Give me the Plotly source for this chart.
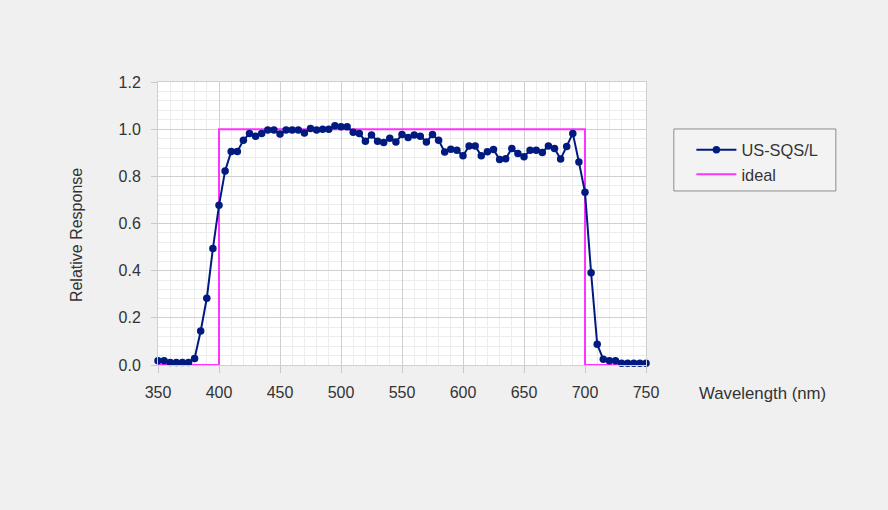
import plotly.graph_objects as go

wavelength = [350, 355, 360, 365, 370, 375, 380, 385, 390, 395,
              400, 405, 410, 415, 420, 425, 430, 435, 440, 445,
              450, 455, 460, 465, 470, 475, 480, 485, 490, 495,
              500, 505, 510, 515, 520, 525, 530, 535, 540, 545,
              550, 555, 560, 565, 570, 575, 580, 585, 590, 595,
              600, 605, 610, 615, 620, 625, 630, 635, 640, 645,
              650, 655, 660, 665, 670, 675, 680, 685, 690, 695,
              700, 705, 710, 715, 720, 725, 730, 735, 740, 745, 750]
response = [0.018, 0.018, 0.011, 0.011, 0.011, 0.011, 0.028, 0.144, 0.283, 0.494,
            0.677, 0.823, 0.905, 0.905, 0.953, 0.982, 0.970, 0.982, 0.996, 0.996,
            0.979, 0.996, 0.996, 0.996, 0.984, 1.003, 0.996, 1.000, 1.000, 1.014,
            1.010, 1.010, 0.987, 0.982, 0.949, 0.975, 0.949, 0.943, 0.962, 0.946,
            0.977, 0.965, 0.975, 0.970, 0.946, 0.977, 0.953, 0.903, 0.915, 0.911,
            0.887, 0.929, 0.929, 0.887, 0.904, 0.914, 0.871, 0.875, 0.918, 0.897,
            0.883, 0.911, 0.911, 0.901, 0.929, 0.918, 0.873, 0.927, 0.982, 0.861,
            0.732, 0.391, 0.088, 0.024, 0.018, 0.018, 0.007, 0.007, 0.007, 0.007, 0.007]

ideal_x = [350, 400, 400, 700, 700, 750]
ideal_y = [0, 0, 1, 1, 0, 0]

x_ticks = [350, 400, 450, 500, 550, 600, 650, 700, 750]
y_ticks = [0.0, 0.2, 0.4, 0.6, 0.8, 1.0, 1.2]

FONT = "Liberation Sans, Arial, sans-serif"
TXT = "#333333"
NAVY = "#001a80"

fig = go.Figure()
fig.add_trace(go.Scatter(
    x=ideal_x, y=ideal_y, name="ideal", mode="lines",
    line=dict(color="#ff33ff", width=2), cliponaxis=False, legendrank=2))
fig.add_trace(go.Scatter(
    x=wavelength, y=response, name="US-SQS/L", mode="lines+markers",
    line=dict(color=NAVY, width=2),
    marker=dict(color=NAVY, size=7.5), cliponaxis=False, legendrank=1))

fig.update_layout(
    width=888, height=510,
    margin=dict(l=158, r=242, t=82, b=145),
    paper_bgcolor="#f0f0f0", plot_bgcolor="#ffffff",
    font=dict(family=FONT, size=16, color=TXT),
    showlegend=True,
    legend=dict(x=1.093, y=0.821, xanchor="left", yanchor="top",
                bgcolor="rgba(0,0,0,0)", borderwidth=0,
                font=dict(size=16.4, color=TXT), tracegroupgap=0,
                itemwidth=40),
    shapes=[dict(type="rect", xref="paper", yref="paper",
                 x0=1.057, x1=1.389, y0=0.615, y1=0.834,
                 line=dict(color="#8c8c8c", width=1), fillcolor="#f3f3f3",
                 layer="below")],
    xaxis=dict(range=[350, 750], tickvals=x_ticks, ticks="outside", ticklen=7,
               tickcolor="#c8c8c8", showgrid=True, gridcolor="#d0d0d0",
               showline=True, linecolor="#d0d0d0", mirror=True, zeroline=False,
               minor=dict(dtick=10, showgrid=True, gridcolor="#ececec"),
               ticklabelstandoff=6,
               tickfont=dict(size=16, color=TXT)),
    yaxis=dict(range=[0, 1.2], tickvals=y_ticks, tickformat=".1f", ticks="outside",
               ticklen=6, tickcolor="#c8c8c8", showgrid=True, gridcolor="#d0d0d0",
               showline=True, linecolor="#d0d0d0", mirror=True, zeroline=False,
               minor=dict(dtick=0.04, showgrid=True, gridcolor="#ececec"),
               ticklabelstandoff=7,
               tickfont=dict(size=16, color=TXT)),
    annotations=[
        dict(text="Wavelength (nm)", xref="paper", yref="paper", x=1.1045, y=-0.099,
             xanchor="left", yanchor="middle", showarrow=False,
             font=dict(size=16.8, color=TXT)),
        dict(text="Relative Response", xref="paper", yref="paper", x=-0.168, y=0.459,
             xanchor="center", yanchor="middle", textangle=-90, showarrow=False,
             font=dict(size=16, color=TXT)),
    ],
)

fig.write_html("out.html", config={"displayModeBar": False},
               post_script="document.body.style.margin='0';document.body.style.background='#f0f0f0';")
